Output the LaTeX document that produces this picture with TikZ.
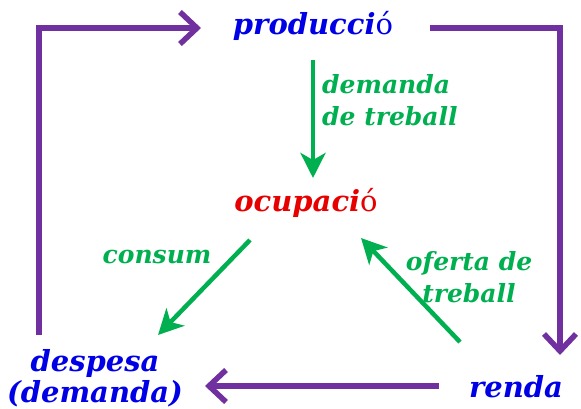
\documentclass[tikz,border=0pt]{standalone}
\usepackage{fontspec}
\setmainfont{DejaVu Serif}
\usetikzlibrary{arrows.meta, calc}
\definecolor{flowpurple}{HTML}{7030A0}
\definecolor{linkgreen}{HTML}{00B050}
\definecolor{wordblue}{HTML}{0000E6}
\definecolor{wordred}{HTML}{E60000}
\newcommand{\plainaccent}[1]{{\mdseries\upshape #1}}

\begin{document}
\begin{tikzpicture}[x=1pt, y=-1pt,
        word/.style={text=#1, font=\bfseries\itshape\fontsize{29}{31}\selectfont, inner sep=0pt},
        note/.style={text=linkgreen, font=\bfseries\itshape\fontsize{25}{32}\selectfont, inner sep=0pt},
        flow/.style={draw=flowpurple, line width=5.5pt, line join=miter,
            -{Straight Barb[length=17pt, width=32pt, line width=5.5pt]}},
        link/.style={draw=linkgreen, line width=4.5pt,
            -{Stealth[length=25pt, width=25pt, inset=7pt]}}
    ]
    \useasboundingbox (0,0) rectangle (581,408);

    % the four quantities
    \node[word=wordblue] (prod) at (313,26) {producci\plainaccent{ó}};
    \node[word=wordred] (ocup) at (306,203) {ocupaci\plainaccent{ó}};
    \node[word=wordblue, align=center] (desp) at (95,378) {despesa\\(demanda)};
    \node[word=wordblue] (renda) at (516,387) {renda};

    % labels of the labour links
    \node[note, anchor=west, align=left] (dem) at (322,100) {demanda\\de treball};
    \node[note] (cons) at (157,257) {consum};
    \node[note, align=center] (ofer) at (469,277) {oferta de\\treball};

    % corners and free ends of the outer loop
    \coordinate (tl) at (39,28);
    \coordinate (tr) at (560,28);
    \coordinate (bl) at (39,335);
    \coordinate (prodin) at (201,28);
    \coordinate (prodout) at (430,28);
    \coordinate (rendain) at (560,355);
    \coordinate (rendaout) at (439,386);
    \coordinate (despin) at (205,386);

    % outer loop
    \draw[flow] (bl) -- (tl) -- (prodin);
    \draw[flow] (prodout) -- (tr) -- (rendain);
    \draw[flow] (rendaout) -- (despin);

    % free ends of the labour market links
    \coordinate (demtop) at (313,60);
    \coordinate (dembot) at (313,178);
    \coordinate (constop) at (250,240);
    \coordinate (consbot) at (158,335);
    \coordinate (ofertop) at (361,238);
    \coordinate (oferbot) at (460,342);

    % labour market links
    \draw[link] (demtop) -- (dembot);
    \draw[link] (constop) -- (consbot);
    \draw[link] (oferbot) -- (ofertop);
\end{tikzpicture}
\end{document}
